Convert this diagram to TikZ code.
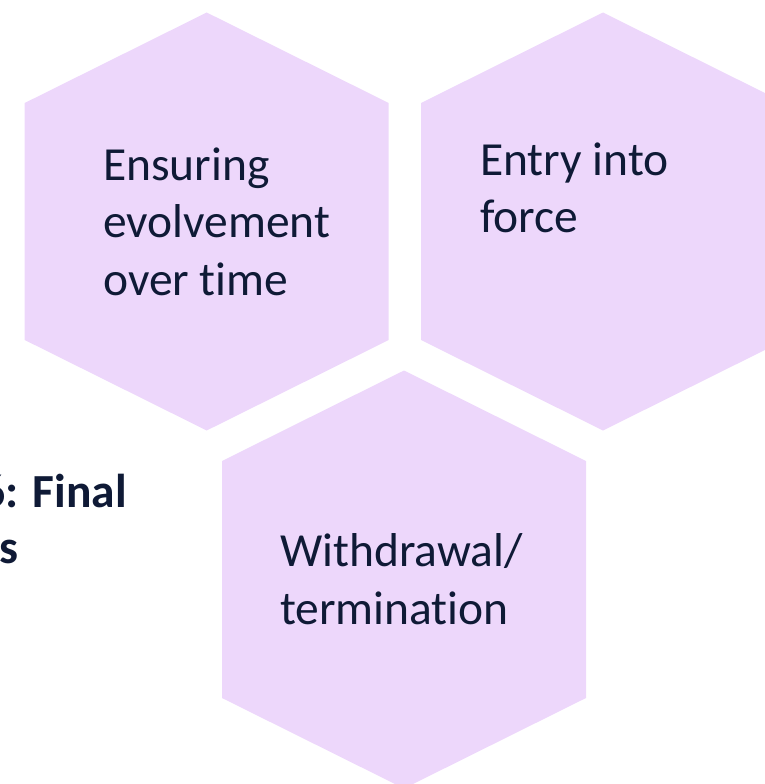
\documentclass[tikz,border=0pt]{standalone}
\usepackage{fontspec}
\setmainfont{Carlito}[Ligatures=NoCommon]
\definecolor{hexfill}{HTML}{EDD7FB}
\definecolor{inknavy}{HTML}{0F1A36}
\tikzset{
    hexcell/.pic={\fill[hexfill] (0,-209) -- (182,-118.5) -- (182,118.5) -- (0,209)
        -- (-182,118.5) -- (-182,-118.5) -- cycle;}, % one cell of the honeycomb
    celltext/.style={anchor=base west, align=left, inner sep=0pt, text=inknavy,
        font=\fontsize{47.5}{57.5}\selectfont}, % base = baseline of the last line
    headtext/.style={celltext, anchor=base east, font=\fontsize{47.5}{56}\selectfont\bfseries},
}
\begin{document}
\begin{tikzpicture}[x=1pt, y=-1pt]
    \clip (0,0) rectangle (765,784);
    \pic at (206.7,221.5) {hexcell};
    \pic at (603,221.5) {hexcell};
    \pic at (404,579.5) {hexcell};
    \node[celltext] (evolve) at (103,295) {Ensuring\\evolvement\\over time};
    \node[celltext] (entry) at (480,232.5) {Entry into\\force};
    \node[celltext] (withdraw) at (280,624) {Withdrawal/\\termination};
    \node[headtext] (module) at (127,563) {Module 6: Final\\provisions};
\end{tikzpicture}
\end{document}
